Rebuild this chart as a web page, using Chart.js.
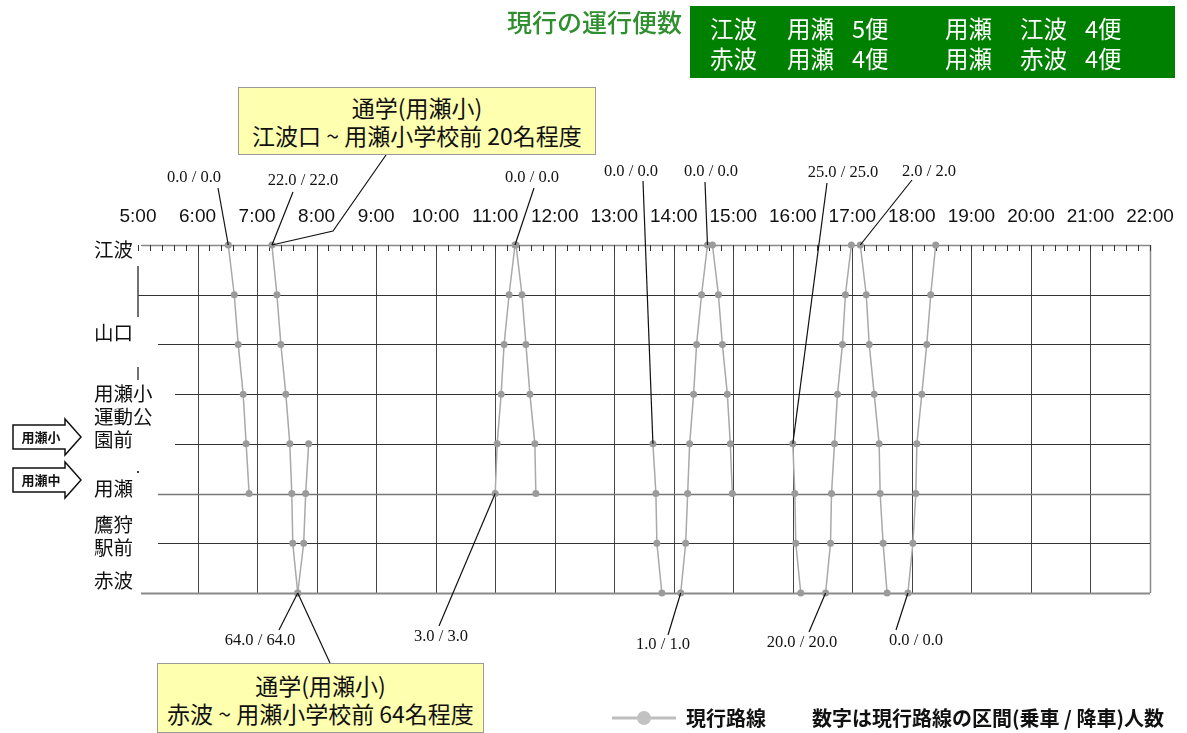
<!DOCTYPE html>
<html lang="ja">
<head>
<meta charset="utf-8">
<script src="https://cdn.jsdelivr.net/npm/chart.js@4.4.1/dist/chart.umd.min.js"></script>
<style>
  html, body { margin: 0; padding: 0; background: #fff; }
  #wrap { position: relative; width: 1187px; height: 733px; overflow: hidden;
          font-family: "Noto Sans CJK JP", "Noto Sans", sans-serif; color: #111; }
  #diagram { position: absolute; left: 0; top: 0; }
  .abs { position: absolute; white-space: nowrap; }
  .callout { position: absolute; background: #ffffb0; border: 1px solid #9a9a9a;
             text-align: center; font-size: 23px; line-height: 28px; box-sizing: border-box; white-space: nowrap; }
  #head-title { left: 507px; top: 3px; font-size: 25px; color: #2f8f2f; font-weight: 500; }
  #head-box { position: absolute; left: 690px; top: 6px; width: 485px; height: 72px; background: #008000; }
  #head-box span { position: absolute; color: #fff; font-size: 23.5px; line-height: 28px; }
  .legend-text { font-size: 20px; font-weight: bold; top: 703px; }
</style>
</head>
<body>
<div id="wrap">
  <canvas id="diagram" width="1187" height="733"></canvas>

  <div id="head-title" class="abs">現行の運行便数</div>
  <div id="head-box">
    <span style="left:20px; top:8px;">江波</span>
    <span style="left:97px; top:8px;">用瀬</span>
    <span style="left:162px; top:8px;">5便</span>
    <span style="left:255px; top:8px;">用瀬</span>
    <span style="left:330px; top:8px;">江波</span>
    <span style="left:395px; top:8px;">4便</span>
    <span style="left:20px; top:38px;">赤波</span>
    <span style="left:97px; top:38px;">用瀬</span>
    <span style="left:162px; top:38px;">4便</span>
    <span style="left:255px; top:38px;">用瀬</span>
    <span style="left:330px; top:38px;">赤波</span>
    <span style="left:395px; top:38px;">4便</span>
  </div>

  <div class="callout" style="left:238px; top:87px; width:358px; height:68px; padding-top:5px;">
    通学(用瀬小)<br>江波口 ~ 用瀬小学校前 20名程度
  </div>
  <div class="callout" style="left:157px; top:663px; width:327px; height:70px; padding-top:7px;">
    通学(用瀬小)<br>赤波 ~ 用瀬小学校前 64名程度
  </div>

  <div class="abs legend-text" style="left:686px;">現行路線</div>
  <div class="abs legend-text" style="left:812px;">数字は現行路線の区間(乗車 / 降車)人数</div>
</div>

<script>
// stations, top to bottom (two unnamed stops between)
const stations = ["江波", "", "山口", "", "用瀬小運動公園前", "用瀬", "鷹狩駅前", "赤波"];
const stationLabelLines = [["江波"], [], ["山口"], [], ["用瀬小", "運動公", "園前"], ["用瀬"], ["鷹狩", "駅前"], ["赤波"]];

const hourTicks = ["5:00", "6:00", "7:00", "8:00", "9:00", "10:00", "11:00", "12:00", "13:00",
    "14:00", "15:00", "16:00", "17:00", "18:00", "19:00", "20:00", "21:00", "22:00"];

// time passing each station (index = station above), null = not served
const trip1  = ["6:31", "6:37", "6:41", "6:46", "6:49", "6:52", null, null];
const trip2  = ["7:15", "7:20", "7:24", "7:29", "7:33", "7:35", "7:36", "7:41"];
const trip3  = [null, null, null, null, "7:52", "7:49", "7:47", "7:41"];
const trip4  = ["11:20", "11:14", "11:09", "11:06", "11:02", "11:00", null, null];
const trip5  = ["11:21", "11:27", "11:31", "11:35", "11:40", "11:41", null, null];
const trip6  = [null, null, null, null, "13:39", "13:42", "13:43", "13:48"];
const trip7  = ["14:34", "14:28", "14:23", "14:20", "14:16", "14:14", "14:12", "14:07"];
const trip8  = ["14:39", "14:45", "14:49", "14:54", "14:57", "14:59", null, null];
const trip9  = [null, null, null, null, "16:00", "16:02", "16:03", "16:08"];
const trip10 = ["16:59", "16:53", "16:50", "16:45", "16:42", "16:39", "16:38", "16:33"];
const trip11 = ["17:08", "17:14", "17:17", "17:22", "17:27", "17:28", "17:31", "17:35"];
const trip12 = ["18:24", "18:19", "18:15", "18:10", "18:05", "18:04", "18:01", "17:56"];
const trips = [trip1, trip2, trip3, trip4, trip5, trip6, trip7, trip8, trip9, trip10, trip11, trip12];

// boarding / alighting counts and the stop they refer to: [trip index, station index]
const countLabels = ["0.0 / 0.0", "22.0 / 22.0", "0.0 / 0.0", "0.0 / 0.0", "0.0 / 0.0", "25.0 / 25.0", "2.0 / 2.0",
    "64.0 / 64.0", "3.0 / 3.0", "1.0 / 1.0", "20.0 / 20.0", "0.0 / 0.0"];
const countStops = [[0, 0], [1, 0], [3, 0], [5, 4], [6, 0], [8, 4], [10, 0],
    [1, 7], [3, 5], [6, 7], [9, 7], [11, 7]];

function toMin(s) {
    const parts = s.split(":").map(Number);
    return parts[0] * 60 + parts[1];
}

// ---- layout only ----
const labelPos = [[194, 178], [303, 181], [532, 178], [631, 172], [711, 172], [843, 173], [929, 172],
    [260, 641], [441, 637], [663, 645], [802, 643], [916, 641]];
const leaderStart = [[218, 188], [293, 192], [534, 188], [643, 181], [705, 182], [827, 183], [912, 180],
    [279, 630], [439, 626], [668, 635], [809, 632], [896, 630]];
const rowLineStart = [141, 138, 158, 175, 175, 158, 158, 141];
const labelBottomOffset = [5, 0, -12, 0, -4, -5, 4, -12];

const diagramPlugin = {
    id: "diagram",
    beforeDatasetsDraw(chart) {
        const { ctx, chartArea: a, scales: { x, y } } = chart;
        ctx.save();

        // vertical hour lines
        hourTicks.forEach((h, i) => {
            if (i === 0) return;
            const px = Math.round(x.getPixelForValue(toMin(h))) + 0.5;
            ctx.strokeStyle = i === hourTicks.length - 1 ? "#8a8a8a" : "#444";
            ctx.lineWidth = i === hourTicks.length - 1 ? 1.5 : 1;
            ctx.beginPath();
            ctx.moveTo(px, y.getPixelForValue(0));
            ctx.lineTo(px, y.getPixelForValue(stations.length - 1));
            ctx.stroke();
        });

        // horizontal station lines
        rowLineStart.forEach((sx, i) => {
            const py = Math.round(y.getPixelForValue(i)) + 0.5;
            let col = "#333", w = 1;
            if (i === 0) { col = "#888"; w = 1.5; }
            if (i === 5) { col = "#777"; w = 1.5; }
            if (i === stations.length - 1) { col = "#8a8a8a"; w = 2; }
            ctx.strokeStyle = col;
            ctx.lineWidth = w;
            ctx.beginPath();
            ctx.moveTo(sx, py);
            ctx.lineTo(a.right, py);
            ctx.stroke();
        });

        // minor ticks on the top line, every 12 minutes
        const topY = Math.round(y.getPixelForValue(0));
        ctx.strokeStyle = "#333";
        ctx.lineWidth = 1;
        for (let m = toMin(hourTicks[0]); m <= toMin(hourTicks[hourTicks.length - 1]); m += 12) {
            const px = Math.round(x.getPixelForValue(m)) + 0.5;
            ctx.beginPath();
            ctx.moveTo(px, topY);
            ctx.lineTo(px, topY + 6);
            ctx.stroke();
        }

        // stray marks left of the chart
        ctx.strokeStyle = "#444";
        ctx.lineWidth = 1.5;
        ctx.beginPath();
        ctx.moveTo(138, 266); ctx.lineTo(138, 317);
        ctx.moveTo(138, 367); ctx.lineTo(138, 380);
        ctx.stroke();
        ctx.fillStyle = "#444";
        ctx.fillRect(137, 471, 2, 2);

        // hour labels
        ctx.fillStyle = "#111";
        ctx.font = "19px 'Liberation Sans', Arial, sans-serif";
        ctx.textAlign = "center";
        ctx.textBaseline = "middle";
        hourTicks.forEach(h => {
            ctx.fillText(h, x.getPixelForValue(toMin(h)), 217);
        });

        // station labels
        ctx.font = "19.5px 'Noto Sans CJK JP', sans-serif";
        ctx.textAlign = "left";
        stationLabelLines.forEach((lines, i) => {
            const base = y.getPixelForValue(i) + labelBottomOffset[i];
            lines.forEach((t, k) => {
                ctx.fillText(t, 94, base - (lines.length - 1 - k) * 23);
            });
        });

        // school arrows
        [["用瀬小", 437], ["用瀬中", 480]].forEach(([t, cy]) => {
            ctx.beginPath();
            ctx.moveTo(13, cy - 12);
            ctx.lineTo(65, cy - 12);
            ctx.lineTo(65, cy - 18);
            ctx.lineTo(81, cy);
            ctx.lineTo(65, cy + 18);
            ctx.lineTo(65, cy + 12);
            ctx.lineTo(13, cy + 12);
            ctx.closePath();
            ctx.fillStyle = "#fff";
            ctx.fill();
            ctx.strokeStyle = "#111";
            ctx.lineWidth = 1.5;
            ctx.stroke();
            ctx.fillStyle = "#111";
            ctx.font = "bold 13px 'Noto Sans CJK JP', sans-serif";
            ctx.textAlign = "center";
            ctx.fillText(t, 41, cy);
        });
        ctx.restore();
    },
    afterDatasetsDraw(chart) {
        const { ctx, scales: { x, y } } = chart;
        const ptOf = ([ti, si]) => [x.getPixelForValue(toMin(trips[ti][si])), y.getPixelForValue(si)];
        ctx.save();
        ctx.strokeStyle = "#111";
        ctx.lineWidth = 1.2;

        // count labels with leader lines
        countLabels.forEach((t, i) => {
            const [ex, ey] = ptOf(countStops[i]);
            ctx.beginPath();
            ctx.moveTo(leaderStart[i][0], leaderStart[i][1]);
            ctx.lineTo(ex, ey);
            ctx.stroke();
        });
        ctx.fillStyle = "#111";
        ctx.font = "16.5px 'Liberation Serif', 'Times New Roman', serif";
        ctx.textAlign = "center";
        ctx.textBaseline = "middle";
        countLabels.forEach((t, i) => ctx.fillText(t, labelPos[i][0], labelPos[i][1]));

        // callout leaders
        const [ax, ay] = ptOf([1, 0]);
        ctx.beginPath();
        ctx.moveTo(386, 155);
        ctx.lineTo(333, 231);
        ctx.lineTo(ax, ay);
        ctx.stroke();
        const [bx, by] = ptOf([1, 7]);
        ctx.beginPath();
        ctx.moveTo(330, 663);
        ctx.lineTo(bx, by);
        ctx.stroke();

        // legend line
        ctx.strokeStyle = "#bdbdbd";
        ctx.lineWidth = 3;
        ctx.beginPath();
        ctx.moveTo(612, 718);
        ctx.lineTo(676, 718);
        ctx.stroke();
        ctx.fillStyle = "#c2c2c2";
        ctx.beginPath();
        ctx.arc(644, 718, 7, 0, Math.PI * 2);
        ctx.fill();
        ctx.restore();
    }
};

const datasets = trips.map((trip, n) => ({
    label: "便" + (n + 1),
    data: trip.map((t, i) => t ? { x: toMin(t), y: i } : null).filter(p => p),
    borderColor: "#a9a9a9",
    borderWidth: 1.5,
    pointRadius: 3.5,
    pointBackgroundColor: "#9b9b9b",
    pointBorderWidth: 0,
    tension: 0,
    clip: false
}));

new Chart(document.getElementById("diagram"), {
    type: "line",
    data: { datasets: datasets },
    options: {
        responsive: false,
        animation: false,
        events: [],
        layout: { padding: { left: 138, right: 37, top: 245, bottom: 140 } },
        plugins: { legend: { display: false }, tooltip: { enabled: false } },
        scales: {
            x: { type: "linear", min: toMin(hourTicks[0]), max: toMin(hourTicks[hourTicks.length - 1]), display: false },
            y: { type: "linear", min: 0, max: stations.length - 1, reverse: true, display: false }
        }
    },
    plugins: [diagramPlugin]
});
</script>
</body>
</html>
